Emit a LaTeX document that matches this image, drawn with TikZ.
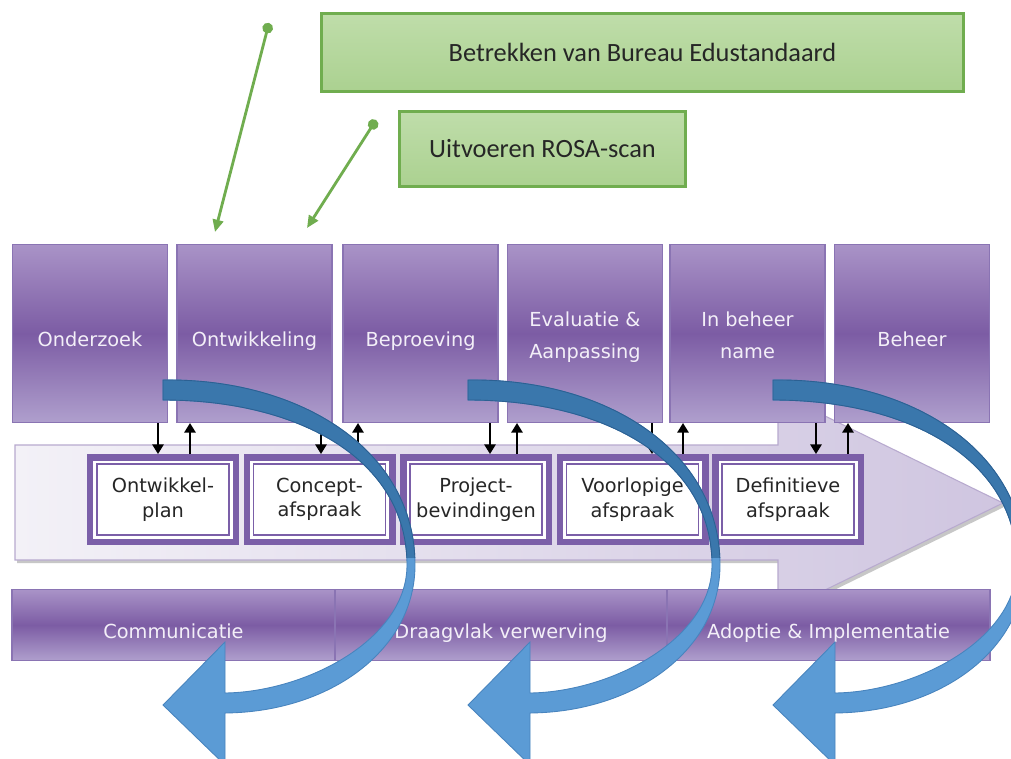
\documentclass[tikz,border=0pt]{standalone}
\usepackage{fontspec}
\setmainfont{DejaVu Sans}
\newfontfamily\greenfont{Carlito}
\usetikzlibrary{arrows.meta}
\definecolor{phase}{HTML}{7C5CA4}
\definecolor{phasetop}{HTML}{A993C7}
\definecolor{phasebot}{HTML}{AF9FCD}
\definecolor{phaseline}{HTML}{8A74B3}
\definecolor{phasetext}{HTML}{F3EFF8}
\definecolor{frame}{HTML}{7B5FA8}
\definecolor{leaf}{HTML}{ABD190}
\definecolor{leaftop}{HTML}{BFDDAA}
\definecolor{leafline}{HTML}{70AD4F}
\definecolor{flowdark}{HTML}{3A77AC}
\definecolor{flowdarkline}{HTML}{2C6092}
\definecolor{flowlight}{HTML}{5B9BD5}
\definecolor{flowlightline}{HTML}{4884BE}
\definecolor{track}{HTML}{CFC5E0}
\definecolor{tracklight}{HTML}{F3F1F7}
\definecolor{trackline}{HTML}{B8AACF}

\newcommand{\flowpath}{(163,380) .. controls (300,378) and (415,450) .. (415,565)
  .. controls (415,650) and (330,712) .. (225,713) -- (225,765) -- (163,705)
  -- (225,642) -- (225,693) .. controls (305,692) and (407,640) .. (407,565)
  .. controls (407,460) and (300,400) .. (163,400) -- cycle}

\tikzset{
  phasebox/.style={rectangle, draw=phaseline, line width=0.6pt, top color=phasetop, bottom color=phasebot, middle color=phase,
    minimum width=31mm, minimum height=35.6mm},
  phaselabel/.style={text=phasetext, align=center, inner sep=0pt, font=\fontsize{11}{18.5}\selectfont,
    execute at begin node=\strut, execute at end node=\strut},
  stepbox/.style={rectangle, draw=frame, line width=1.3mm, fill=white, minimum width=29.1mm, minimum height=16.9mm,
    inner sep=0pt, align=center, text=black!85, font=\fontsize{11}{14}\selectfont},
  barbox/.style={rectangle, draw=phaseline, line width=0.6pt, top color=phasetop, bottom color=phasebot, middle color=phase,
    minimum height=14.2mm},
  leafbox/.style={rectangle, draw=leafline, line width=1.7pt, top color=leaftop, bottom color=leaf, text=black!85,
    font=\greenfont\fontsize{15}{18}\selectfont},
  leafarrow/.style={leafline, line width=1.6pt, {Circle[length=6pt]}-{Triangle[length=7pt,width=6pt]}},
  smallarrow/.style={black, line width=1pt, -{Triangle[length=5.5pt,width=6.5pt]}}
}

\begin{document}
\begin{tikzpicture}[x=0.2mm, y=-0.2mm, font=\fontsize{11}{14}\selectfont]
  \useasboundingbox (0,0) rectangle (1011,758);
  \clip (0,0) rectangle (1011,758);
  \fill[white] (0,0) rectangle (1011,758);

  % big background arrow
  \fill[black!22] (17,448) -- (781,448) -- (781,396) -- (1006,506) -- (781,616) -- (781,563) -- (17,563) -- cycle;
  \draw[left color=tracklight, right color=track, draw=trackline, line width=0.6pt]
    (15,445) -- (778,445) -- (778,393) -- (1003,503) -- (778,613) -- (778,560) -- (15,560) -- cycle;

  \foreach \x/\name/\txt in {90/onderzoek/Onderzoek, 254.5/ontwikkeling/Ontwikkeling, 420.5/beproeving/Beproeving,
      585/evaluatie/{Evaluatie \&\\Aanpassing}, 747.5/inbeheer/{In beheer\\name}, 912/beheer/Beheer}{
    \node[phasebox] (\name) at (\x,333.5) {};
    \node[phaselabel] (\name-t) at ([yshift=-1.3mm]\name.center) {\txt};
  }

  \foreach \x/\name/\txt in {163/plan/{Ontwikkel-\\plan}, 319.5/concept/{Concept-\\afspraak}, 476/project/{Project-\\bevindingen},
      632.5/voorlopig/{Voorlopige\\afspraak}, 788/definitief/{Definitieve\\afspraak}}{
    \node[stepbox] (\name) at (\x,499.5) {\txt};
    \draw[frame, line width=0.6pt] ([shift={(2mm,2mm)}]\name.south west) rectangle ([shift={(-2mm,-2mm)}]\name.north east);
  }

  \foreach \dx/\ux/\a/\m/\b in {158/190/onderzoek/plan/ontwikkeling, 321/358/ontwikkeling/concept/beproeving,
      490/517/beproeving/project/evaluatie, 652/683/evaluatie/voorlopig/inbeheer, 816/848/inbeheer/definitief/beheer}{
    \draw[smallarrow] (\dx,0 |- \a.south) -- (\dx,0 |- \m.north);
    \draw[smallarrow] (\ux,0 |- \m.north) -- (\ux,0 |- \b.south);
  }

  \foreach \x/\w/\name/\txt in {173.5/64.6/communicatie/Communicatie, 501/66.4/draagvlak/Draagvlak verwerving,
      828.5/64.6/adoptie/{Adoptie \& Implementatie}}{
    \node[barbox, minimum width=\w mm] (\name) at (\x,625) {};
    \node[phaselabel] (\name-t) at ([yshift=-1.3mm]\name.center) {\txt};
  }

  \node[leafbox, minimum width=128.4mm, minimum height=15.6mm] (bureau) at (642.5,52.5) {Betrekken van Bureau Edustandaard};
  \node[leafbox, minimum width=57.2mm, minimum height=15mm] (rosa) at (542.5,149) {Uitvoeren ROSA-scan};
  \coordinate (dot1) at (269,23);
  \coordinate (tip1) at (215,232);
  \coordinate (dot2) at (376,120);
  \coordinate (tip2) at (307,228);
  \draw[leafarrow] (dot1) -- (tip1);
  \draw[leafarrow] (dot2) -- (tip2);

  % curved blue arrows
  \foreach \s in {0,305,610}{
    \begin{scope}[shift={(\s,0)}]
      \filldraw[flowlight, draw=flowlightline, line width=0.5pt] \flowpath;
      \begin{scope}
        \clip (150,370) rectangle (430,557);
        \filldraw[flowdark, draw=flowdarkline, line width=0.5pt] \flowpath;
      \end{scope}
    \end{scope}
  }
\end{tikzpicture}
\end{document}
